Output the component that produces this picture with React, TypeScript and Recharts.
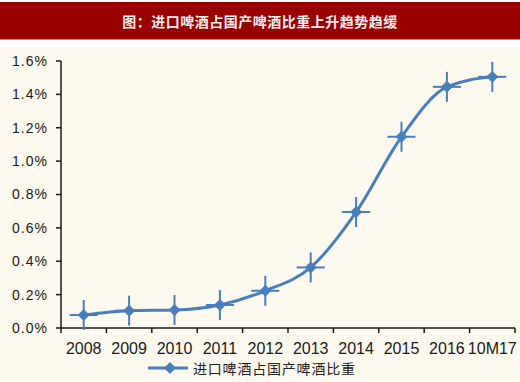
import React from 'react';
import { LineChart, Line, XAxis, YAxis, Legend } from 'recharts';

const categories = ['2008', '2009', '2010', '2011', '2012', '2013', '2014', '2015', '2016', '10M17'];
const shareValues = [0.00078, 0.00104, 0.00108, 0.00138, 0.00223, 0.00363, 0.00695, 0.01146, 0.01445, 0.01505];
const yTicks = [0, 0.002, 0.004, 0.006, 0.008, 0.01, 0.012, 0.014, 0.016];
const seriesName = '进口啤酒占国产啤酒比重';
const titleText = '图：进口啤酒占国产啤酒比重上升趋势趋缓';

const data = categories.map((c, i) => ({ x: i + 0.5, label: c, value: shareValues[i] }));
const xTicks = categories.map((_, i) => i).concat([categories.length]);

const BLUE = '#4a7ebb';

const CrossDot = (props: any) => {
  const { cx, cy } = props;
  if (cx == null || cy == null) return null;
  const r = 6;
  return (
    <g>
      <line x1={cx - 14} x2={cx + 14} y1={cy} y2={cy} stroke={BLUE} strokeWidth={2} />
      <line x1={cx} x2={cx} y1={cy - 15} y2={cy + 15} stroke={BLUE} strokeWidth={2} />
      <path d={`M${cx},${cy - r}L${cx + r},${cy}L${cx},${cy + r}L${cx - r},${cy}Z`} fill={BLUE} />
    </g>
  );
};

const XTick = (props: any) => {
  const { x, y, payload, width } = props;
  const idx = payload.value;
  if (idx >= categories.length) return null;
  const step = (width || 454) / categories.length;
  return (
    <text x={x + step / 2} y={y} dy={11} textAnchor="middle" fontSize={16}
      fontFamily="Liberation Sans, Arial, sans-serif" fill="#1a1a1a">
      {categories[idx]}
    </text>
  );
};

const LegendContent = () => (
  <div style={{ display: 'flex', alignItems: 'center', justifyContent: 'flex-start', paddingLeft: 148 }}>
    <svg width={40} height={14} style={{ marginRight: 5 }}>
      <line x1={0} x2={40} y1={7} y2={7} stroke={BLUE} strokeWidth={3} />
      <path d="M22,1L28,7L22,13L16,7Z" fill={BLUE} />
    </svg>
    <span style={{ fontFamily: '"Noto Sans CJK SC", sans-serif', fontSize: 14, letterSpacing: 0.8, color: '#222' }}>
      {seriesName}
    </span>
  </div>
);

export default function App() {
  return (
    <div style={{ position: 'absolute', left: 0, top: 0, width: 520, height: 382, background: '#ffffff', overflow: 'hidden' }}>
      <div style={{ position: 'absolute', left: 0, top: 2, width: 520, height: 37, background: '#990000', borderBottom: '1px solid #c98585' }} />
      <div style={{ position: 'absolute', left: 0, top: 2, width: 520, height: 37, display: 'flex', alignItems: 'center', justifyContent: 'center',
        color: '#f7ecec', fontFamily: '"Noto Sans CJK SC", sans-serif', fontWeight: 700, fontSize: 14, letterSpacing: 0.5 }}>
        {titleText}
      </div>
      <div style={{ position: 'absolute', left: 0, top: 47, width: 520, height: 335, background: '#fdf9ef' }} />
      <div style={{ position: 'absolute', left: 0, top: 0 }}>
        <LineChart width={520} height={382} data={data} margin={{ top: 61, right: 5, bottom: 0, left: 0 }}>
          <XAxis dataKey="x" type="number" domain={[0, categories.length]} ticks={xTicks} interval={0}
            height={54} tick={<XTick />} tickSize={5} tickMargin={10}
            axisLine={{ stroke: '#1a1a1a', strokeWidth: 1.5 }} tickLine={{ stroke: '#1a1a1a', strokeWidth: 1.5 }} />
          <YAxis type="number" domain={[0, 0.016]} ticks={yTicks} interval={0} width={61}
            tickFormatter={(v: number) => (v * 100).toFixed(1) + '%'}
            tick={{ fontSize: 14, fill: '#1a1a1a', fontFamily: 'Liberation Sans, Arial, sans-serif', letterSpacing: 1 }}
            tickSize={5} tickMargin={8}
            axisLine={{ stroke: '#1a1a1a', strokeWidth: 1.5 }} tickLine={{ stroke: '#1a1a1a', strokeWidth: 1.5 }} />
          <Legend verticalAlign="middle" align="center" layout="horizontal" content={<LegendContent />}
            wrapperStyle={{ top: 358, left: 0, width: 520 }} />
          <Line type="monotone" dataKey="value" name={seriesName} stroke={BLUE} strokeWidth={3}
            dot={<CrossDot />} activeDot={false} isAnimationActive={false} />
        </LineChart>
      </div>
    </div>
  );
}
